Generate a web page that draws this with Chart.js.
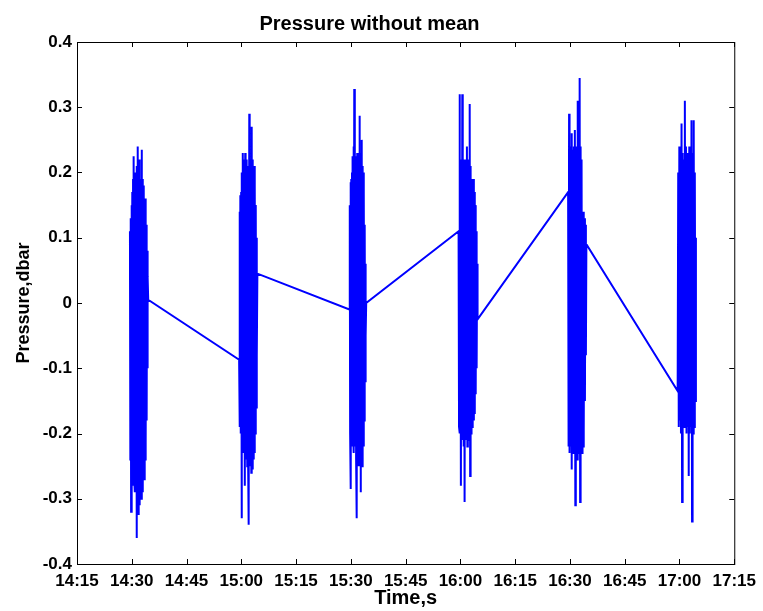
<!DOCTYPE html>
<html lang="en">
<head>
    <meta charset="UTF-8">
    <title>Pressure without mean</title>
    <script src="https://cdn.jsdelivr.net/npm/chart.js"></script>
    <style>
        html, body { margin: 0; padding: 0; background: #fff; }
        #wrap { width: 763px; height: 611px; }
    </style>
</head>
<body>
    <div id="wrap"><canvas id="grafico" width="763" height="611"></canvas></div>

    <script>
        // time axis in minutes since midnight (14:15 -> 855, 17:15 -> 1035)
        const xMin = 855;
        const xMax = 1035;
        const xStep = 15;
        const yTicks = [-0.4, -0.3, -0.2, -0.1, 0, 0.1, 0.2, 0.3, 0.4];

        // each burst of samples: start and end time (minutes)
        const burstStart = [869.5, 899.4, 929.6, 959.5, 989.5, 1019.5];
        const burstEnd = [874.5, 904.4, 934.2, 964.7, 994.5, 1024.5];

        // pressure values (dbar), per burst
        const burst1 = [0.11, -0.24, 0.13, -0.32, 0.15, -0.26, 0.17, -0.28, 0.19, -0.25, 0.225, -0.27,
            0.18, -0.29, 0.2, -0.26, 0.19, -0.36, 0.21, -0.3, 0.24, -0.28, 0.2, -0.325, 0.22, -0.31,
            0.19, -0.27, 0.18, -0.3, 0.235, -0.28, 0.19, -0.29, 0.17, -0.26, 0.18, -0.27, 0.15, -0.24,
            0.16, -0.22, 0.12, -0.18, 0.08, -0.1, 0.04, 0.005];
        const burst2 = [-0.087, 0.14, -0.19, 0.165, -0.2, 0.17, -0.33, 0.2, -0.22, 0.23, -0.21, 0.21,
            -0.23, 0.22, -0.28, 0.23, -0.24, 0.21, -0.22, 0.22, -0.25, 0.2, -0.23, 0.21, -0.34, 0.29,
            -0.25, 0.22, -0.24, 0.21, -0.26, 0.27, -0.25, 0.22, -0.255, 0.2, -0.24, 0.21, -0.23, 0.18,
            -0.2, 0.15, -0.16, 0.1, -0.08, 0.045];
        const burst3 = [-0.01, 0.15, -0.2, 0.185, -0.285, 0.19, -0.21, 0.2, -0.22, 0.225, -0.2, 0.24,
            -0.23, 0.328, -0.22, 0.23, -0.21, 0.225, -0.24, 0.22, -0.33, 0.23, -0.25, 0.22, -0.23, 0.225,
            -0.24, 0.287, -0.25, 0.23, -0.29, 0.22, -0.24, 0.25, -0.25, 0.21, -0.23, 0.2, -0.22, 0.17,
            -0.18, 0.12, -0.12, 0.06, -0.05, 0.0];
        const burst4 = [0.11, -0.19, 0.32, -0.2, 0.21, -0.28, 0.22, -0.21, 0.32, -0.2, 0.21, -0.22,
            0.22, -0.305, 0.21, -0.21, 0.22, -0.2, 0.24, -0.22, 0.21, -0.21, 0.22, -0.2, 0.305, -0.265,
            0.21, -0.2, 0.19, -0.19, 0.18, -0.185, 0.19, -0.18, 0.17, -0.17, 0.15, -0.14, 0.11, -0.1,
            0.06, -0.025];
        const burst5 = [0.17, -0.22, 0.29, -0.23, 0.23, -0.22, 0.24, -0.255, 0.26, -0.23, 0.235, -0.23,
            0.24, -0.22, 0.265, -0.31, 0.24, -0.23, 0.235, -0.24, 0.31, -0.23, 0.24, -0.22, 0.345, -0.305,
            0.24, -0.23, 0.22, -0.23, 0.14, -0.22, 0.14, -0.2, 0.13, -0.15, 0.12, -0.08, 0.09];
        const burst6 = [-0.135, 0.2, -0.19, 0.24, -0.18, 0.22, -0.2, 0.275, -0.305, 0.23, -0.19, 0.22,
            -0.185, 0.31, -0.19, 0.24, -0.2, 0.23, -0.19, 0.22, -0.265, 0.24, -0.2, 0.22, -0.19, 0.28,
            -0.335, 0.23, -0.2, 0.28, -0.19, 0.2, -0.15, 0.1];

        const bursts = [burst1, burst2, burst3, burst4, burst5, burst6];

        // samples are evenly spaced in time inside each burst
        const pontos = [];
        bursts.forEach((valores, b) => {
            const passo = (burstEnd[b] - burstStart[b]) / (valores.length - 1);
            valores.forEach((v, i) => {
                pontos.push({ x: burstStart[b] + i * passo, y: v });
            });
        });

        function formatarHora(min) {
            const h = Math.floor(min / 60);
            const m = Math.round(min % 60);
            return h + ":" + (m < 10 ? "0" + m : m);
        }

        // box round the plot and ticks pointing inward on all four sides (matlab style)
        const caixaPlugin = {
            id: "caixa",
            afterDraw(chart) {
                const { ctx, chartArea: a, scales } = chart;
                const tl = 5;
                ctx.save();
                ctx.strokeStyle = "#000";
                ctx.lineWidth = 1;
                ctx.strokeRect(a.left + 0.5, a.top + 0.5, a.right - a.left, a.bottom - a.top);
                ctx.beginPath();
                scales.x.ticks.forEach(t => {
                    const px = Math.round(scales.x.getPixelForValue(t.value)) + 0.5;
                    ctx.moveTo(px, a.bottom); ctx.lineTo(px, a.bottom - tl);
                    ctx.moveTo(px, a.top); ctx.lineTo(px, a.top + tl);
                });
                scales.y.ticks.forEach(t => {
                    const py = Math.round(scales.y.getPixelForValue(t.value)) + 0.5;
                    ctx.moveTo(a.left, py); ctx.lineTo(a.left + tl, py);
                    ctx.moveTo(a.right, py); ctx.lineTo(a.right - tl, py);
                });
                ctx.stroke();
                ctx.restore();
            }
        };

        Chart.defaults.font.family = "'Liberation Sans', Arial, sans-serif";
        Chart.defaults.color = "#000";

        new Chart(document.getElementById("grafico").getContext("2d"), {
            type: "line",
            data: {
                datasets: [{
                    label: "Pressure",
                    data: pontos,
                    borderColor: "#0000ff",
                    borderWidth: 2,
                    pointRadius: 0,
                    tension: 0,
                    fill: false
                }]
            },
            options: {
                responsive: false,
                animation: false,
                layout: { padding: { left: 0, right: 24, top: 0, bottom: 0 } },
                plugins: {
                    legend: { display: false },
                    tooltip: { enabled: false },
                    title: {
                        display: true,
                        text: "Pressure without mean",
                        font: { size: 20, weight: "bold" },
                        padding: { top: 12, bottom: 6 }
                    }
                },
                scales: {
                    x: {
                        type: "linear",
                        min: xMin,
                        max: xMax,
                        grid: { display: false, drawTicks: false },
                        border: { display: false },
                        ticks: {
                            stepSize: xStep,
                            maxRotation: 0,
                            autoSkip: false,
                            padding: 7,
                            font: { size: 17, weight: "bold" },
                            callback: v => formatarHora(v)
                        },
                        title: {
                            display: true,
                            text: "Time,s",
                            font: { size: 20, weight: "bold" },
                            padding: { top: 0, bottom: 1 }
                        },
                        afterFit: s => { s.height = 47; }
                    },
                    y: {
                        min: -0.4,
                        max: 0.4,
                        grid: { display: false, drawTicks: false },
                        border: { display: false },
                        afterBuildTicks: s => { s.ticks = yTicks.map(v => ({ value: v })); },
                        ticks: {
                            padding: 5,
                            font: { size: 17, weight: "bold" },
                            callback: v => Math.abs(v) < 1e-9 ? "0" : v.toFixed(1)
                        },
                        title: {
                            display: true,
                            text: "Pressure,dbar",
                            font: { size: 18, weight: "bold" },
                            padding: { top: 13, bottom: 0 }
                        },
                        afterFit: s => { s.width = 77; }
                    }
                }
            },
            plugins: [caixaPlugin]
        });
    </script>
</body>
</html>
